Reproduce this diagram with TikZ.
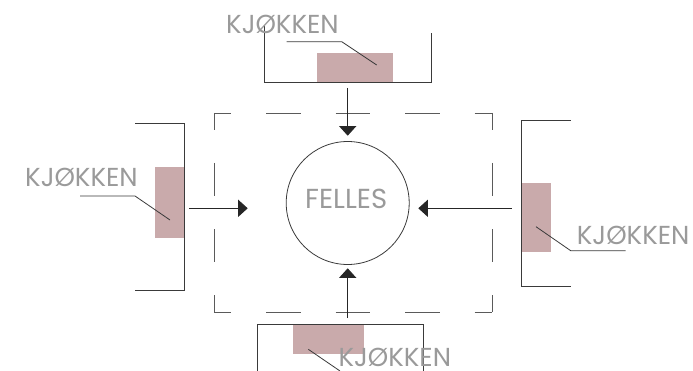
\documentclass[tikz,border=0pt]{standalone}
\usepackage{fontspec}
\setmainfont{Poppins}
\usetikzlibrary{arrows.meta}
\definecolor{kpink}{HTML}{C9AAAB}
\definecolor{ktext}{HTML}{9A9A9A}
\definecolor{kline}{HTML}{3A3A3A}
\definecolor{kdash}{HTML}{5A5A5A}
\tikzset{
  wall/.style={draw=kline, line width=0.9pt},
  leader/.style={draw=kline, line width=0.8pt},
  flow/.style={draw=black!85, line width=0.9pt, -{Triangle[length=9.5pt,width=17pt]}},
  roomlabel/.style={text=ktext, font=\fontsize{26}{26}\selectfont, inner sep=0pt, anchor=base west},
  kitchen/.style={fill=kpink, draw=none, inner sep=0pt, anchor=north west},
  hdash/.style={draw=kdash, line width=0.9pt, dash pattern=on 34.75pt off 34.75pt, dash phase=17.375pt},
  vdash/.style={draw=kdash, line width=0.9pt, dash pattern=on 33.17pt off 33.17pt, dash phase=16.58pt},
}
\begin{document}
\begin{tikzpicture}[x=1pt,y=-1pt]
\useasboundingbox (0,0) rectangle (693,371);

% dashed zone
\draw[hdash] (214,113) -- (492,113);
\draw[hdash] (214,312) -- (492,312);
\draw[vdash] (214,113) -- (214,312);
\draw[vdash] (492,113) -- (492,312);

% central circle
\node[circle, draw=kline, line width=0.8pt, minimum size=123pt, inner sep=0pt] (felles) at (347.7,203) {};
\node[roomlabel, font=\fontsize{27.5}{27.5}\selectfont] (fellestext) at (305,209) {FELLES};

% kitchens (pink areas)
\node[kitchen, minimum width=75.7pt, minimum height=29.6pt] (ktop) at (317,52.7) {};
\node[kitchen, minimum width=29pt, minimum height=71pt] (kleft) at (155,166.7) {};
\node[kitchen, minimum width=29.7pt, minimum height=69pt] (kright) at (521,182.7) {};
\node[kitchen, minimum width=71pt, minimum height=29.3pt] (kbottom) at (292.3,324) {};

% walls
\draw[wall] (264.3,25) -- (264.3,82.3) -- (431,82.3) -- (431,33);
\draw[wall] (135,123.3) -- (184,123.3) -- (184,290) -- (135,290);
\draw[wall] (570.7,120) -- (521,120) -- (521,286) -- (570.7,286);
\draw[wall] (257.3,371) -- (257.3,324) -- (423.3,324) -- (423.3,371);

% labels
\node[roomlabel] (ltop) at (226,33.3) {KJØKKEN};
\node[roomlabel] (lleft) at (25,186.7) {KJØKKEN};
\node[roomlabel] (lright) at (576.7,245) {KJØKKEN};
\node[roomlabel] (lbottom) at (338.3,366) {KJØKKEN};

% leaders
\draw[leader] (286.7,41.7) -- (341.7,41.7) -- (376.7,65);
\draw[leader] (80,196) -- (135,196) -- (170,220);
\draw[leader] (536,226.7) -- (570.7,250.7) -- (625.7,250.7);
\draw[leader] (308.3,349.3) -- (340,371);

% arrows
\coordinate (atop0) at (347.7,88);
\coordinate (atop1) at (347.7,135.7);
\coordinate (aleft0) at (189,208.3);
\coordinate (aleft1) at (247.7,208.3);
\coordinate (aright0) at (511.7,208.3);
\coordinate (aright1) at (418.3,208.3);
\coordinate (abot0) at (347.7,318);
\coordinate (abot1) at (347.7,268.3);
\draw[flow] (atop0) -- (atop1);
\draw[flow] (aleft0) -- (aleft1);
\draw[flow] (aright0) -- (aright1);
\draw[flow] (abot0) -- (abot1);
\end{tikzpicture}
\end{document}
